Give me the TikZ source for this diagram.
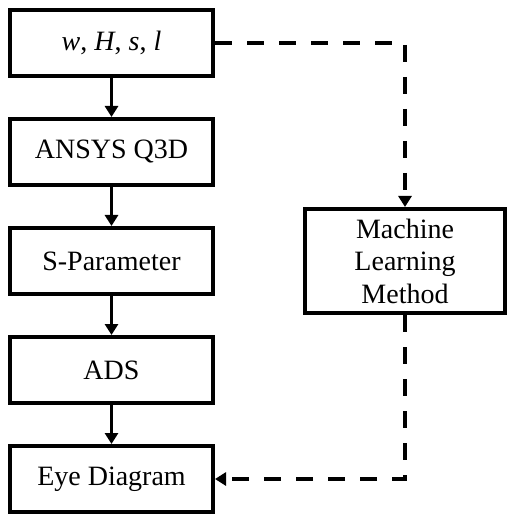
\documentclass[tikz,border=0pt]{standalone}
\usepackage{fontspec}
\setmainfont{Liberation Serif}
\usetikzlibrary{arrows.meta}
\begin{document}
\begin{tikzpicture}[x=1pt,y=-1pt,
  box/.style={draw=black, line width=4pt, fill=white, minimum width=203pt, minimum height=66pt, inner sep=0pt, font=\fontsize{28}{32.5}\selectfont, align=center},
  mlbox/.style={box, minimum width=200pt, minimum height=104pt},
  solidarrow/.style={line width=3.2pt, -{Triangle[length=11pt,width=13pt]}},
  dasharrow/.style={line width=4.5pt, dash pattern=on 17pt off 15pt, -{Triangle[length=11pt,width=13pt]}}
]
\useasboundingbox (0,0) rectangle (506,518);
\node[box] (inp) at (111.5,43) {\textit{w}, \textit{H}, \textit{s}, \textit{l}};
\node[box] (ansys) at (111.5,152) {ANSYS Q3D};
\node[box] (spar) at (111.5,261) {S-Parameter};
\node[box] (ads) at (111.5,370) {ADS};
\node[box] (eye) at (111.5,479) {Eye Diagram};
\node[mlbox] (ml) at (405,261) {Machine\\Learning\\Method};
\draw[solidarrow] (inp) -- (ansys);
\draw[solidarrow] (ansys) -- (spar);
\draw[solidarrow] (spar) -- (ads);
\draw[solidarrow] (ads) -- (eye);
\draw[dasharrow] (inp.east) -| (ml.north);
\draw[dasharrow] (ml.south) |- (eye.east);
\end{tikzpicture}
\end{document}
